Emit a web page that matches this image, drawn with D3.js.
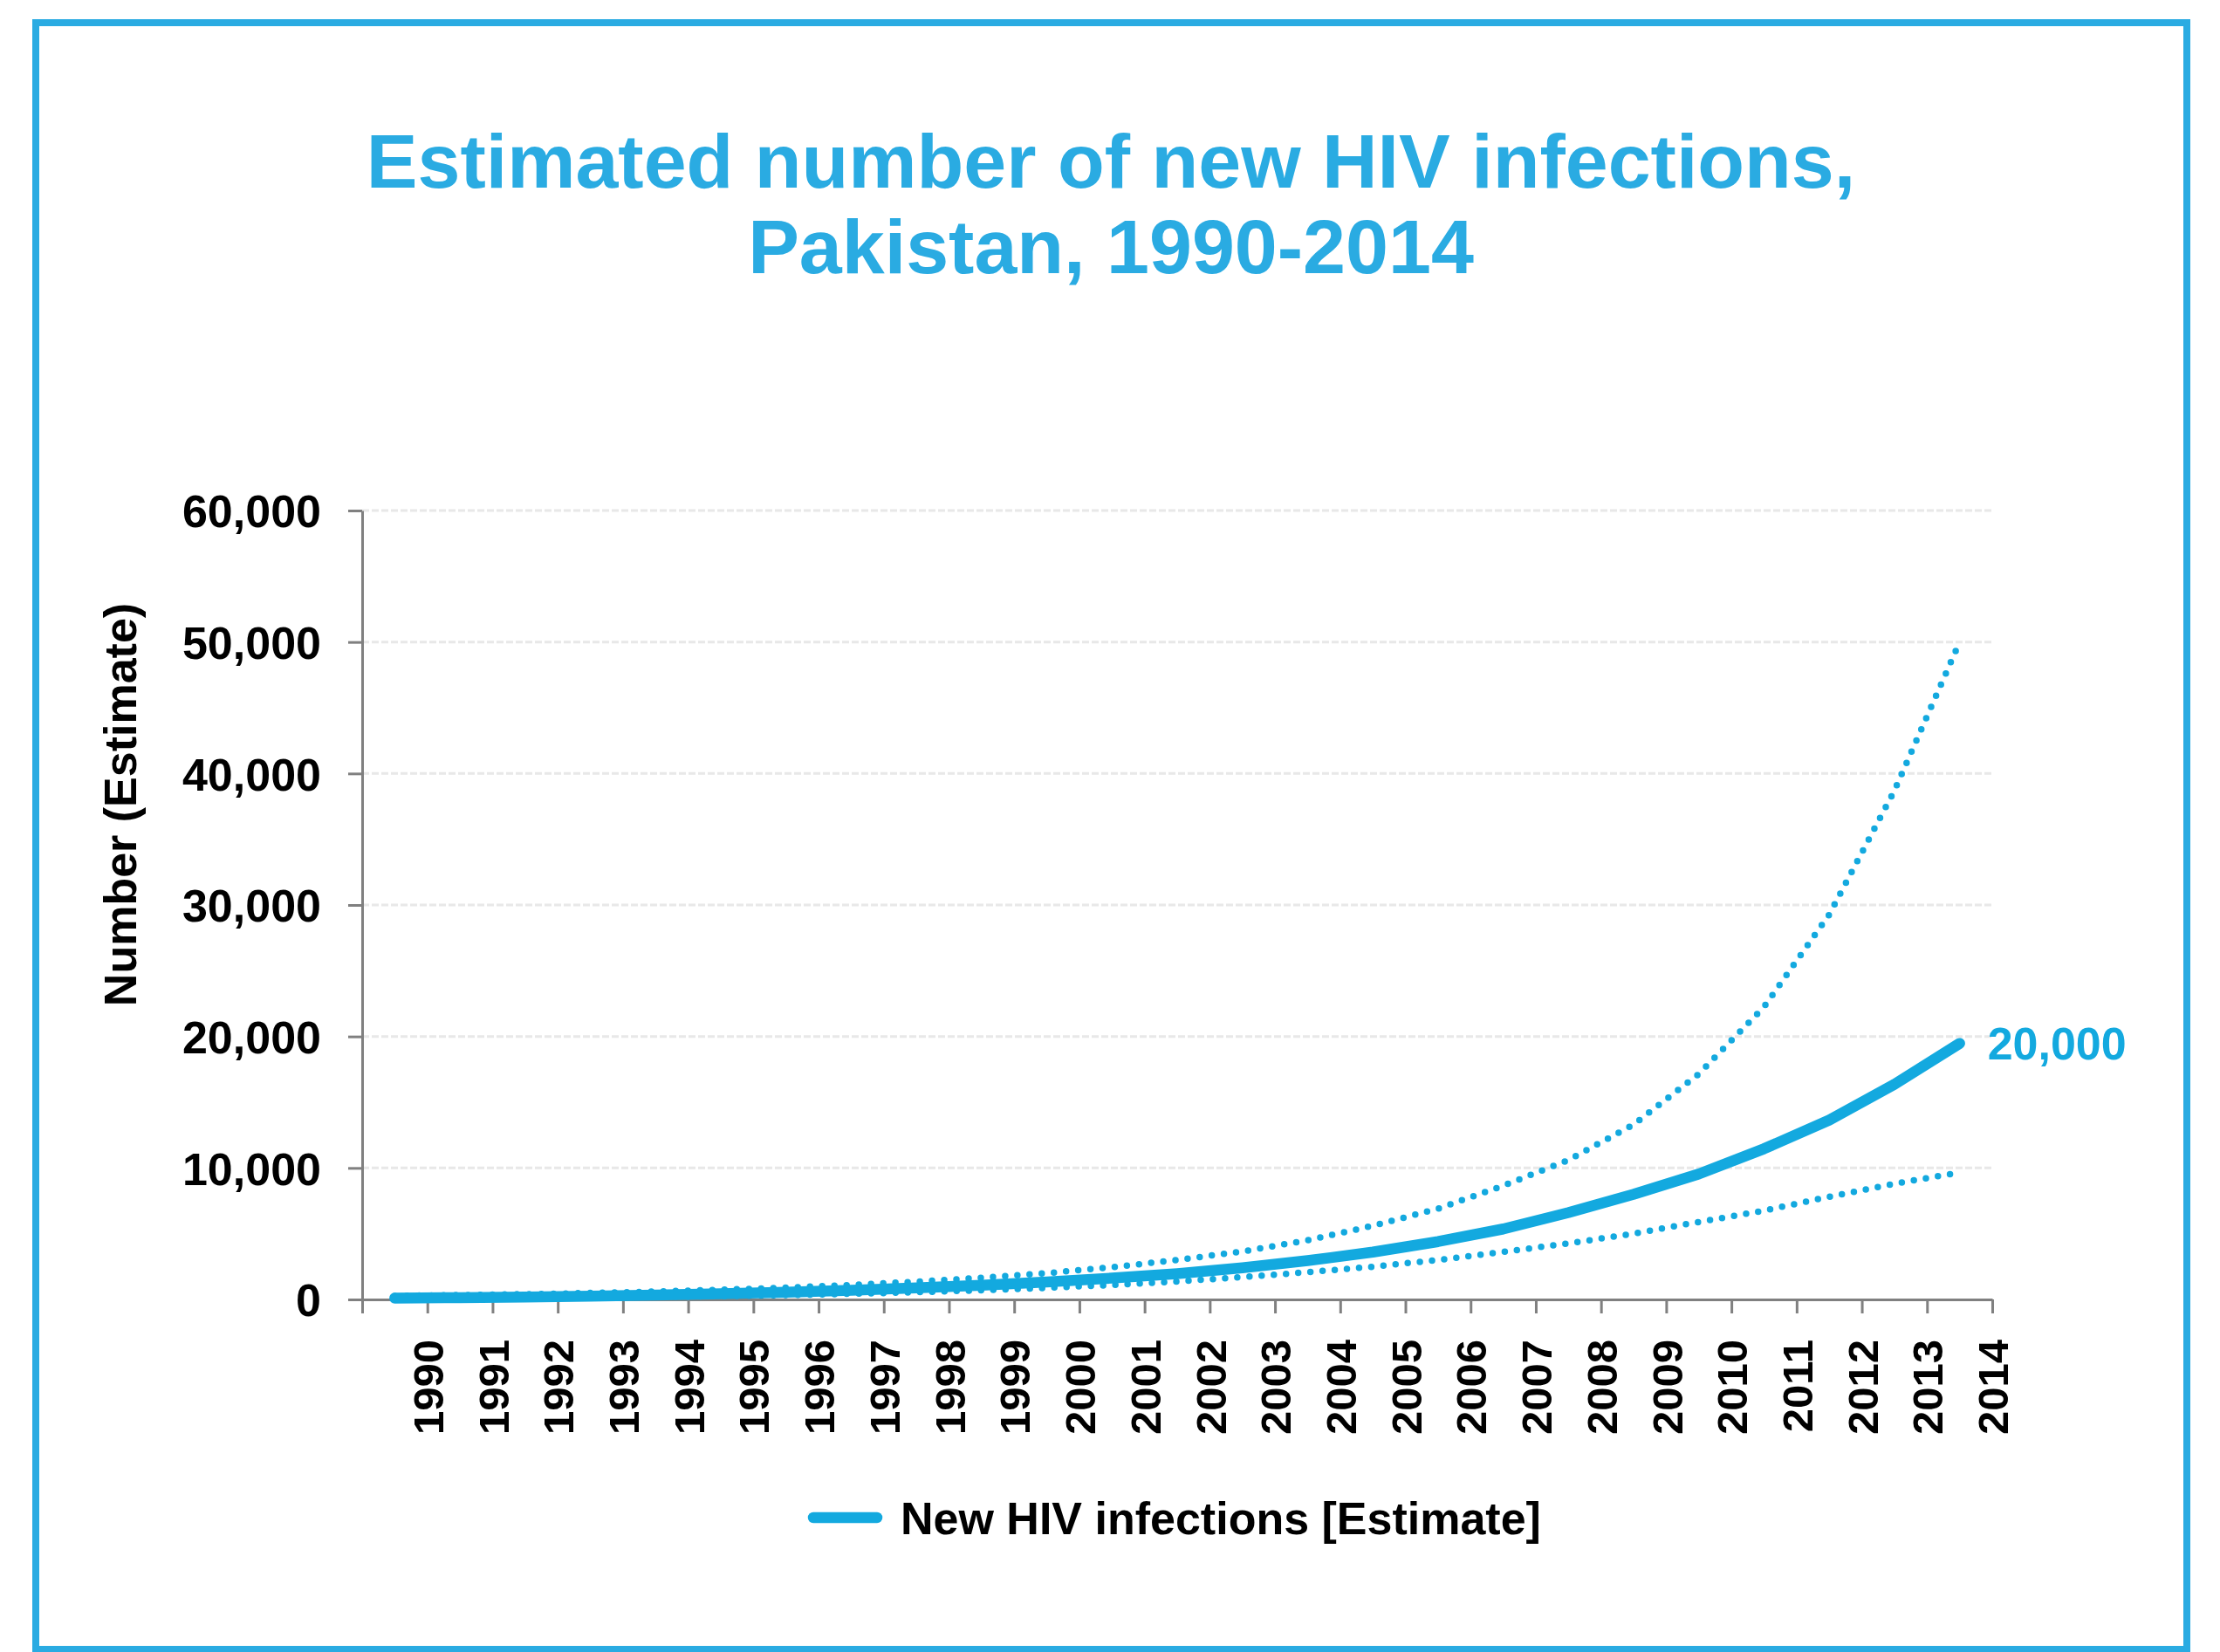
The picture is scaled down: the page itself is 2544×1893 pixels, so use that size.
<!DOCTYPE html>
<html>
<head>
<meta charset="utf-8">
<script src="https://cdn.jsdelivr.net/npm/d3@7"></script>
<style>
  html, body { margin: 0; padding: 0; background: #ffffff; }
  svg { display: block; }
  text { font-family: "Liberation Sans", Arial, "DejaVu Sans", sans-serif; font-weight: bold; }
</style>
</head>
<body>
<svg id="chart" width="2544" height="1893"></svg>
<script>
// ---- Data ----
const years = [1990,1991,1992,1993,1994,1995,1996,1997,1998,1999,2000,2001,2002,2003,2004,2005,2006,2007,2008,2009,2010,2011,2012,2013,2014];
const estimate = [100,140,190,250,330,430,550,700,880,1080,1330,1620,1960,2400,2950,3600,4400,5360,6600,8000,9540,11460,13640,16360,19470];
const upperBound = [270,330,400,490,600,730,900,1100,1350,1650,2000,2450,3000,3650,4500,5600,6900,8650,10600,13300,17150,22250,29270,38700,50000];
const lowerBound = [50,70,100,140,190,250,330,430,550,700,880,1100,1370,1700,2070,2490,3000,3620,4260,5010,5890,6750,7810,8800,9650];
const yTicks = [0,10000,20000,30000,40000,50000,60000];
const titleLines = ["Estimated number of new HIV infections,", "Pakistan, 1990-2014"];
const yAxisTitle = "Number (Estimate)";
const legendLabel = "New HIV infections [Estimate]";
const endLabel = "20,000";

// ---- Layout ----
const blue = "#13a9df";
const frameBlue = "#2aabe2";
const svg = d3.select("#chart");
const plotLeft = 415, plotRight = 2283, plotTop = 585, plotBottom = 1489;

// frame
svg.append("rect")
  .attr("x", 41).attr("y", 26).attr("width", 2465).attr("height", 1864)
  .attr("fill", "none").attr("stroke", frameBlue).attr("stroke-width", 8);

// title
svg.append("g").selectAll("text").data(titleLines).join("text")
  .attr("x", 1273).attr("y", (d, i) => 215 + i * 98)
  .attr("text-anchor", "middle")
  .attr("fill", frameBlue)
  .style("font-size", "88px")
  .text(d => d);

// scales
const n = years.length;
const x = d3.scaleLinear().domain([0, n]).range([plotLeft, plotRight]);
const y = d3.scaleLinear().domain([0, 60000]).range([plotBottom, plotTop]);

// gridlines
svg.append("g").selectAll("line").data(yTicks.filter(v => v > 0)).join("line")
  .attr("x1", plotLeft).attr("x2", plotRight)
  .attr("y1", d => y(d)).attr("y2", d => y(d))
  .attr("stroke", "#e8e8e8").attr("stroke-width", 3)
  .attr("stroke-dasharray", "8 3");

// y axis
const yAxis = svg.append("g").attr("transform", `translate(${plotLeft},0)`)
  .call(d3.axisLeft(y).tickValues(yTicks).tickFormat(d3.format(",")).tickSize(16).tickSizeOuter(0).tickPadding(31));
yAxis.selectAll("path, line").attr("stroke", "#808080").attr("stroke-width", 3);
yAxis.selectAll("text").attr("fill", "#000").style("font-size", "52px").attr("dy", "0.36em");

// x axis
const xAxis = svg.append("g").attr("transform", `translate(0,${plotBottom})`)
  .call(d3.axisBottom(x).tickValues(d3.range(0, n + 1)).tickFormat(k => k > 0 ? years[k - 1] : "").tickSize(16).tickSizeOuter(0));
xAxis.selectAll("path, line").attr("stroke", "#808080").attr("stroke-width", 3);
xAxis.selectAll("text")
  .attr("transform", "rotate(-90)")
  .attr("x", -46).attr("y", 0).attr("dy", "0.36em")
  .style("text-anchor", "end")
  .attr("fill", "#000")
  .style("font-size", "49px");

// y axis title
svg.append("text")
  .attr("transform", `translate(137,922) rotate(-90)`)
  .attr("text-anchor", "middle").attr("dy", "0.36em")
  .attr("fill", "#000").style("font-size", "52px")
  .text(yAxisTitle);

// lines
const line = d3.line().x((d, i) => x(i + 0.5)).y(d => y(d));
svg.append("path").datum(upperBound).attr("d", line)
  .attr("fill", "none").attr("stroke", blue).attr("stroke-width", 7.5)
  .attr("stroke-linecap", "round").attr("stroke-dasharray", "0 14");
svg.append("path").datum(lowerBound).attr("d", line)
  .attr("fill", "none").attr("stroke", blue).attr("stroke-width", 7.5)
  .attr("stroke-linecap", "round").attr("stroke-dasharray", "0 14");
svg.append("path").datum(estimate).attr("d", line)
  .attr("fill", "none").attr("stroke", blue).attr("stroke-width", 12.5)
  .attr("stroke-linecap", "round").attr("stroke-linejoin", "round");

// end label
svg.append("text")
  .attr("x", x(n - 0.5) + 32).attr("y", y(estimate[n - 1]))
  .attr("dy", "0.36em")
  .attr("fill", blue).style("font-size", "52px")
  .text(endLabel);

// legend
svg.append("line").attr("x1", 932).attr("x2", 1005).attr("y1", 1739).attr("y2", 1739)
  .attr("stroke", blue).attr("stroke-width", 12.5).attr("stroke-linecap", "round");
svg.append("text").attr("x", 1032).attr("y", 1739).attr("dy", "0.36em")
  .attr("fill", "#000").style("font-size", "52px")
  .text(legendLabel);
</script>
</body>
</html>
